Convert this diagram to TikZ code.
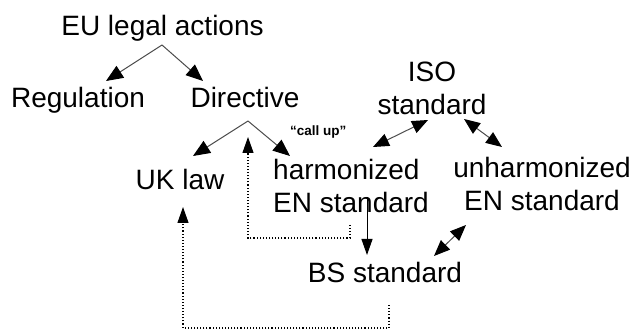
\documentclass[tikz,border=0pt]{standalone}
\usepackage{fontspec}
\setmainfont{Liberation Sans}
\usetikzlibrary{arrows.meta}
\begin{document}
\begin{tikzpicture}[x=1pt,y=-1pt,
  lbl/.style={inner sep=0pt, font=\fontsize{28}{33}\selectfont, text=black},
  small/.style={inner sep=0pt, font=\fontsize{13.5}{15}\selectfont\bfseries, text=black},
  conn/.style={draw=black!70, line width=1pt, -{Triangle[length=17pt,width=14pt,color=black]}},
  dconn/.style={draw=black!70, line width=1pt, {Triangle[length=16pt,width=13pt,color=black]}-{Triangle[length=16pt,width=13pt,color=black]}},
  dotconn/.style={draw=black, line width=1.1pt, dash pattern=on 1.1pt off 2pt, -{Triangle[length=16pt,width=11pt,color=black]}},
  solconn/.style={draw=black, line width=1pt, -{Triangle[length=16pt,width=11pt,color=black]}}]
\useasboundingbox[fill=white] (0,0) rectangle (632,331);
% texts
\node[lbl, anchor=base] (eu) at (162.5,35.5) {EU legal actions};
\node[lbl, anchor=base] (reg) at (78,108) {Regulation};
\node[lbl, anchor=base] (dir) at (245,108) {Directive};
\node[lbl, anchor=north, align=center] (iso) at (432,62) {ISO\\standard};
\node[lbl, anchor=north west, align=left] (harm) at (273,159.5) {harmonized\\EN standard};
\node[lbl, anchor=north, align=center] (unharm) at (542,157) {unharmonized\\EN standard};
\node[lbl, anchor=base] (uk) at (180,190) {UK law};
\node[lbl, anchor=base] (bs) at (385,283) {BS standard};
\node[small, anchor=base west] (callup) at (290,136) {``call up''};
% connector points
\coordinate (euapex) at (162,45);
\coordinate (regtip) at (106,81);
\coordinate (dirtip) at (203,81);
\coordinate (dirapex) at (248,121);
\coordinate (uktip) at (193,156);
\coordinate (harmtip) at (290,156);
\coordinate (d1a) at (350,225);
\coordinate (d1b) at (350,238);
\coordinate (d1c) at (248,238);
\coordinate (d1tip) at (248,137);
\coordinate (s1a) at (367,197);
\coordinate (s1tip) at (367,255);
\coordinate (d2a) at (389,305);
\coordinate (d2b) at (389,328);
\coordinate (d2c) at (183,328);
\coordinate (d2tip) at (183,207);
\coordinate (ih1) at (373,147);
\coordinate (ih2) at (428,120);
\coordinate (iu1) at (464,119);
\coordinate (iu2) at (502,147);
\coordinate (bu1) at (434,256);
\coordinate (bu2) at (466,225);
% connectors
\draw[conn] (euapex) -- (regtip);
\draw[conn] (euapex) -- (dirtip);
\draw[conn] (dirapex) -- (uktip);
\draw[conn] (dirapex) -- (harmtip);
\draw[dotconn] (d1a) -- (d1b) -- (d1c) -- (d1tip);
\draw[solconn] (s1a) -- (s1tip);
\draw[dotconn] (d2a) -- (d2b) -- (d2c) -- (d2tip);
\draw[dconn] (ih1) -- (ih2);
\draw[dconn] (iu1) -- (iu2);
\draw[dconn] (bu1) -- (bu2);
\end{tikzpicture}
\end{document}
